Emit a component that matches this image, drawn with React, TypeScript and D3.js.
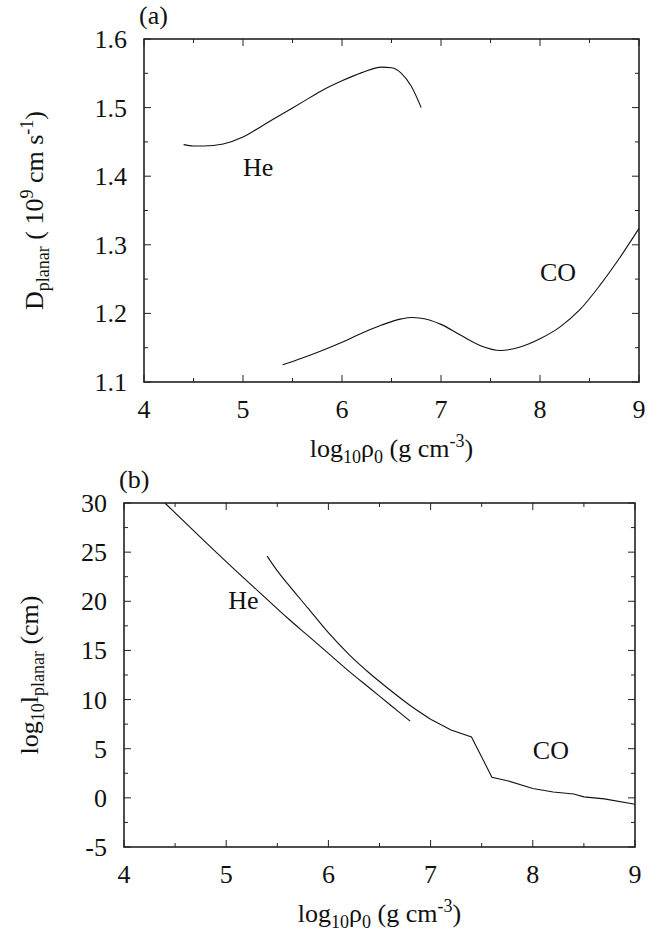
import React from 'react'
import * as d3 from 'd3'

const width = 662
const height = 932

// panel (a): detonation speed
const heTopX = [4.4, 4.5, 4.6, 4.8, 5.0, 5.2, 5.4, 5.6, 5.8, 6.0, 6.2, 6.4, 6.5, 6.6, 6.7, 6.8]
const heTopY = [1.446, 1.444, 1.444, 1.447, 1.457, 1.474, 1.491, 1.508, 1.525, 1.539, 1.551, 1.559, 1.558, 1.550, 1.531, 1.500]
const coTopX = [5.4, 5.6, 5.8, 6.0, 6.2, 6.4, 6.6, 6.7, 6.8, 7.0, 7.2, 7.4, 7.6, 7.8, 8.0, 8.2, 8.4, 8.6, 8.8, 9.0]
const coTopY = [1.125, 1.135, 1.146, 1.158, 1.171, 1.183, 1.192, 1.194, 1.193, 1.184, 1.168, 1.153, 1.146, 1.151, 1.163, 1.180, 1.205, 1.240, 1.280, 1.324]

// panel (b): log length scale
const heBotX = [4.4, 4.8, 5.2, 5.4, 5.6, 5.8, 6.0, 6.2, 6.4, 6.6, 6.8]
const heBotY = [30.0, 26.0, 22.1, 20.2, 18.3, 16.5, 14.7, 12.9, 11.2, 9.5, 7.8]
const coBotX = [5.4, 5.5, 5.6, 5.8, 6.0, 6.2, 6.4, 6.6, 6.8, 7.0, 7.2, 7.4, 7.6, 7.75, 8.0, 8.2, 8.4, 8.5, 8.7, 9.0]
const coBotY = [24.6, 23.1, 21.8, 19.3, 16.8, 14.6, 12.7, 11.0, 9.4, 8.0, 6.9, 6.2, 2.1, 1.75, 0.95, 0.6, 0.4, 0.1, -0.1, -0.65]
const coBotBreak = 9 // smooth up to rho = 7.0, straight segments after

const xTicks = [4, 5, 6, 7, 8, 9]
const topYTicks = [1.1, 1.2, 1.3, 1.4, 1.5, 1.6]
const botYTicks = [-5, 0, 5, 10, 15, 20, 25, 30]

const font = '"Liberation Serif", "Times New Roman", serif'

const mids = (t: number[]) => t.slice(1).map((v, i) => (v + t[i]) / 2)

function Panel({left, right, top, bottom, yDomain, yTicks, yFmt, series, tag, labels, xTitleY, yTitle, yTitleX}) {
    const x = d3.scaleLinear().domain([4, 9]).range([left, right])
    const y = d3.scaleLinear().domain(yDomain).range([bottom, top])
    const xm = mids(xTicks)
    const ym = mids(yTicks)
    const tk = '#222'
    return (
        <g fontFamily={font} fill="#111">
            {series.map((s, i) => {
                const pts = s.x.map((v, j) => [v, s.y[j]])
                const line = d3.line().x(d => x(d[0])).y(d => y(d[1])).curve(s.curve)
                return <path key={i} d={line(pts)} fill="none" stroke="#111" strokeWidth={1.1} />
            })}
            {xTicks.map(t => (
                <g key={'xt' + t}>
                    <line x1={x(t)} x2={x(t)} y1={bottom} y2={bottom - 7} stroke={tk} strokeWidth={1} />
                    <line x1={x(t)} x2={x(t)} y1={top} y2={top + 7} stroke={tk} strokeWidth={1} />
                    <text x={x(t)} y={bottom + 36} textAnchor="middle" fontSize={26}>{t}</text>
                </g>
            ))}
            {xm.map(t => (
                <g key={'xm' + t}>
                    <line x1={x(t)} x2={x(t)} y1={bottom} y2={bottom - 4} stroke={tk} strokeWidth={1} />
                    <line x1={x(t)} x2={x(t)} y1={top} y2={top + 4} stroke={tk} strokeWidth={1} />
                </g>
            ))}
            {yTicks.map(t => (
                <g key={'yt' + t}>
                    <line x1={left} x2={left + 7} y1={y(t)} y2={y(t)} stroke={tk} strokeWidth={1} />
                    <line x1={right} x2={right - 7} y1={y(t)} y2={y(t)} stroke={tk} strokeWidth={1} />
                    <text x={left - 17} y={y(t) + 9} textAnchor="end" fontSize={26}>{yFmt(t)}</text>
                </g>
            ))}
            {ym.map(t => (
                <g key={'ym' + t}>
                    <line x1={left} x2={left + 4} y1={y(t)} y2={y(t)} stroke={tk} strokeWidth={1} />
                    <line x1={right} x2={right - 4} y1={y(t)} y2={y(t)} stroke={tk} strokeWidth={1} />
                </g>
            ))}
            <rect x={left} y={top} width={right - left} height={bottom - top} fill="none" stroke={tk} strokeWidth={1.6} />
            <text x={left - 5} y={top - 15} fontSize={26}>{tag}</text>
            {labels.map(l => (
                <text key={l.t} x={x(l.x)} y={y(l.y)} fontSize={26}>{l.t}</text>
            ))}
            <text x={(left + right) / 2} y={xTitleY} textAnchor="middle" fontSize={26}>
                log<tspan fontSize={18} dy={6}>10</tspan><tspan dy={-6}>ρ</tspan><tspan fontSize={18} dy={6}>0</tspan>
                <tspan dy={-6}> (g cm</tspan><tspan fontSize={18} dy={-10}>-3</tspan><tspan dy={10}>)</tspan>
            </text>
            <text transform={`translate(${yTitleX},${(top + bottom) / 2}) rotate(-90)`} textAnchor="middle" fontSize={26}>
                {yTitle}
            </text>
        </g>
    )
}

export default function App() {
    const topTitle = (
        <>
            D<tspan fontSize={18} dy={6}>planar</tspan><tspan dy={-6}> ( 10</tspan><tspan fontSize={18} dy={-10}>9</tspan>
            <tspan dy={10}> cm s</tspan><tspan fontSize={18} dy={-10}>-1</tspan><tspan dy={10}>)</tspan>
        </>
    )
    const botTitle = (
        <>
            log<tspan fontSize={18} dy={6}>10</tspan><tspan dy={-6}>l</tspan><tspan fontSize={18} dy={6}>planar</tspan>
            <tspan dy={-6}> (cm)</tspan>
        </>
    )
    return (
        <svg width={width} height={height} style={{position: 'absolute', left: 0, top: 0, background: '#fff'}}>
            <Panel
                left={144} right={639} top={39} bottom={382}
                yDomain={[1.1, 1.6]} yTicks={topYTicks} yFmt={d3.format('.1f')}
                series={[
                    {x: heTopX, y: heTopY, curve: d3.curveMonotoneX},
                    {x: coTopX, y: coTopY, curve: d3.curveMonotoneX},
                ]}
                tag="(a)"
                labels={[{t: 'He', x: 5.0, y: 1.4}, {t: 'CO', x: 8.0, y: 1.247}]}
                xTitleY={457}
                yTitle={topTitle} yTitleX={43}
            />
            <Panel
                left={124} right={635} top={503} bottom={847}
                yDomain={[-5, 30]} yTicks={botYTicks} yFmt={d => String(d)}
                series={[
                    {x: heBotX, y: heBotY, curve: d3.curveMonotoneX},
                    {x: coBotX.slice(0, coBotBreak + 1), y: coBotY.slice(0, coBotBreak + 1), curve: d3.curveMonotoneX},
                    {x: coBotX.slice(coBotBreak), y: coBotY.slice(coBotBreak), curve: d3.curveLinear},
                ]}
                tag="(b)"
                labels={[{t: 'He', x: 5.02, y: 19.2}, {t: 'CO', x: 8.0, y: 4.0}]}
                xTitleY={922}
                yTitle={botTitle} yTitleX={38}
            />
        </svg>
    )
}
